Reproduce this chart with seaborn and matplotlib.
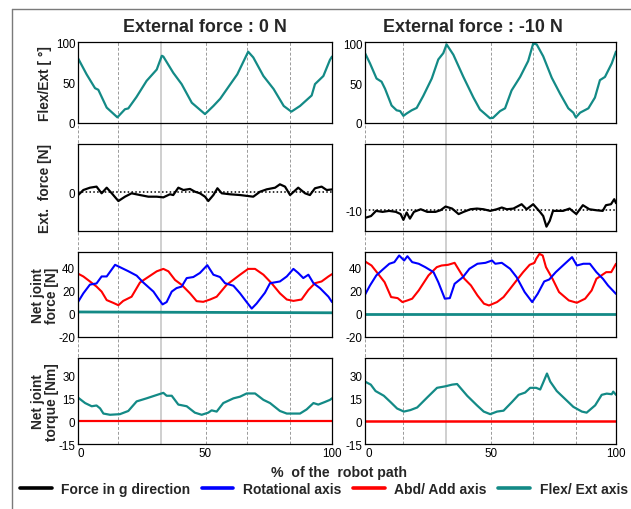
import seaborn as sns
import matplotlib.pyplot as plt
from matplotlib.lines import Line2D
from matplotlib import transforms

sns.set_theme(style='white')
plt.rcParams['font.family'] = ['Liberation Sans', 'DejaVu Sans']
plt.rcParams['axes.unicode_minus'] = False

# ---- values (x = % of the robot path) ----
# Flex/Ext angle, external force 0 N
flex_0_x = [0, 3.4, 6.7, 8, 11.3, 15.5, 18.5, 19.8, 23, 27, 31, 33, 33.6, 37.5, 40.8, 44.8, 50,
            53.3, 56, 60, 62.7, 67, 69, 73, 77, 81, 84, 87.4, 92, 93.3, 96.6, 99.2, 100]
flex_0_y = [80, 60, 43, 41, 19, 7, 17, 18, 32, 52, 66, 83, 82, 62, 48, 25, 11,
            21, 30, 48, 60, 88, 81, 58, 42, 21, 14, 21, 34, 48, 58, 78, 82]
# Flex/Ext angle, external force -10 N
flex_10_x = [0, 2, 4.6, 6.6, 8, 10.6, 12.6, 14, 15.3, 16.6, 18.6, 20.6, 23.2, 26.6, 29.2, 31.2, 32.5,
             35.2, 39.2, 43.2, 45.8, 49.8, 51, 53.8, 55.8, 58.4, 61.8, 65, 67, 68.4, 71, 74.4, 77.7,
             81, 83, 84, 85.7, 89, 91.6, 93.6, 95.6, 98.3, 100]
flex_10_y = [88, 75, 56, 52, 43, 22, 16, 15, 9, 12, 16, 19, 34, 56, 80, 88, 99,
             86, 58, 32, 17, 6, 6.5, 15, 18.5, 41, 58, 78, 100, 99, 84, 57, 37,
             18.5, 13, 7, 13, 18.5, 32, 54, 58, 75, 90]

# External force in g direction
ext_0_x = [0, 2.1, 4.7, 7.3, 9.3, 11.3, 13.3, 15.9, 18.5, 21.1, 24.4, 27.7, 31, 33.6, 36.2, 37.5,
           39.5, 41.5, 44.1, 46, 48, 50, 51.3, 53.3, 54.9, 56.6, 59.8, 63.8, 69, 71.7, 74.3, 77.6,
           79.5, 81.5, 83.5, 86.7, 89.4, 91.3, 93.3, 95.9, 97.9, 100]
ext_0_y = [-0.3, 0.24, 0.48, 0.59, -0.1, 0.48, -0.1, -0.9, -0.45, -0.1, -0.28, -0.45, -0.45, -0.52, -0.2, -0.28,
           0.48, 0.24, 0.35, 0.07, -0.1, -0.45, -0.9, -0.28, 0.42, -0.1, -0.2, -0.28, -0.45, 0.07, 0.31, 0.48,
           0.83, 0.59, -0.28, 0.48, -0.1, -0.28, 0.42, 0.59, 0.24, 0.3]
ext_10_x = [0, 2.4, 4.4, 7, 9.6, 12.3, 14.2, 15.3, 16.6, 17.9, 19.5, 22.2, 24.8, 28.1, 30.1, 32.1, 34.7,
            37.3, 39.3, 42, 44.6, 47.2, 49.9, 52.5, 54.5, 56.5, 59.1, 62.4, 64.4, 67, 69.7, 71, 72.3,
            73.6, 74.9, 78.9, 81.5, 84.2, 86.8, 89.4, 92.1, 94.7, 96, 98, 99.3, 100]
ext_10_y = [-10.8, -10.6, -10.07, -10.17, -10.07, -10.17, -10.4, -11.0, -10.24, -10.87, -10.17, -9.9, -10.17, -10.17, -10.0, -9.62, -9.83,
            -10.4, -10.17, -9.9, -9.83, -9.9, -10.07, -9.9, -9.72, -9.9, -9.83, -9.38, -9.9, -9.38, -10.17, -10.6, -11.7,
            -11.1, -10.07, -10.07, -9.83, -10.4, -9.48, -9.9, -10.0, -10.07, -9.48, -9.38, -8.86, -9.27]

# Net joint force, 0 N
rot_0_x = [0, 2.1, 4.7, 7.3, 9.3, 11.3, 14.6, 16.5, 19.8, 23.1, 25.7, 29.7, 31.6, 33.3, 34.9, 36.9, 38.8,
           40.8, 42.8, 45.4, 48, 50.9, 53.3, 55.9, 57.9, 61.2, 63.8, 66.4, 68.4, 70.3, 73.6, 75.6, 79.5,
           82.2, 84.8, 86.7, 88.7, 90.7, 92.7, 95.3, 98.6, 100]
rot_0_y = [10, 17.5, 25, 26, 32, 32, 42, 40, 36.5, 32.7, 26.8, 19, 13, 8, 10, 19, 22,
           23.3, 30.6, 31.5, 35, 41.7, 33.5, 31.5, 26.2, 24, 17.5, 10, 4.4, 8.7, 18, 26.2, 27.7,
           32, 38.5, 35, 30.6, 33.5, 26.2, 21.9, 14.6, 10]
abd_0_x = [0, 2.1, 4.7, 7.3, 9.3, 11.3, 13.9, 15.9, 17.8, 21.1, 24.4, 27, 31, 33.6, 35.6, 38.2, 40.8,
           44.1, 46.7, 49.3, 52, 54.6, 56.6, 58.5, 61.2, 63.8, 67, 69.7, 73, 76.2, 79.5, 82.2, 84.8,
           88, 90.7, 93.3, 95.9, 98.6, 100]
abd_0_y = [34.4, 32, 27.7, 23.3, 19, 11.7, 9.3, 7.3, 11, 14.6, 26.8, 30.6, 36.4, 38.5, 36.4, 29, 24.8,
           17.5, 10.8, 10.2, 12.2, 14.6, 19.8, 24.8, 29.2, 33.5, 38.5, 38.5, 33.5, 26.2, 17.5, 12.2, 11,
           12.2, 20.4, 26.2, 27.7, 32, 34]
flex_force_0_x = [0, 100]
flex_force_0_y = [1.5, 0.8]

# Net joint force, -10 N
rot_10_x = [0, 2, 4.5, 7.1, 9.7, 11.7, 13.6, 15.6, 16.9, 18.8, 21.4, 24, 27.3, 29.2, 31.8, 33.8, 35.7,
            39, 41.6, 44.8, 48, 50.6, 51.9, 54.5, 57.8, 60.4, 63.6, 66.6, 68.8, 71.4, 73.4, 76, 78.6,
            82.5, 84.4, 87, 89.6, 92.2, 94.8, 96.8, 100]
rot_10_y = [16.3, 24.3, 32.9, 38, 42.9, 44.3, 50, 45.7, 49.4, 44.3, 42.9, 40, 35.7, 27.1, 12.9, 13.4, 25.7,
            31.4, 38.6, 42.9, 43.7, 45.7, 42.9, 43.7, 38.6, 31.4, 18.6, 10, 17.1, 27.7, 29.4, 35.7, 40.9,
            48.6, 41.4, 42.9, 42.9, 35.7, 30, 24.3, 17]
abd_10_x = [0, 2.6, 5.2, 7.8, 10.4, 13, 14.9, 16.9, 18.8, 21.4, 25.3, 28.6, 30.5, 33.1, 35.7, 37, 39.6,
            42.2, 44.8, 47.4, 49.4, 52.6, 55.2, 57.8, 60.4, 63, 65.6, 67.5, 68.2, 69.5, 70.8, 72.1, 74.7,
            77.3, 81.2, 84.4, 87.7, 90.3, 92.2, 94.2, 96.1, 98.1, 100]
abd_10_y = [44.9, 41.4, 34.3, 27.1, 14.3, 13.4, 10, 11.4, 12.9, 20, 32.9, 40, 41.4, 42, 43.7, 39.1, 30,
            24.3, 15.7, 8.6, 7.1, 10, 14.3, 21.4, 28.6, 35.7, 42, 43.7, 47.1, 51.4, 50, 40, 30,
            18.6, 11.4, 9.4, 12.9, 20, 30, 32.9, 35.7, 35.7, 42.9]
flex_force_10_x = [0, 100]
flex_force_10_y = [0, 0]

# Net joint torque
torque_0_x = [0, 2.8, 5.4, 7.3, 8.7, 10, 12.6, 16.5, 19.8, 23.1, 27, 31, 33.6, 34.9, 36.9, 39.5, 42.8,
              46, 48.7, 51.3, 52.6, 54.6, 57.2, 61.2, 63.8, 66.4, 69.7, 73, 75.6, 79.5, 82.2, 87.4,
              90, 92.7, 94.6, 97.2, 99.2, 100]
torque_0_y = [15.5, 11.9, 9.8, 10.3, 8.4, 5, 4.2, 4.6, 6.7, 13, 15, 17.2, 18.6, 16.7, 16.7, 10.9, 9.8,
              5.6, 4.2, 5.6, 7.1, 6.3, 11.9, 15, 16.1, 18.2, 18.2, 14, 11.9, 6.7, 5, 5,
              7.7, 11.9, 10.9, 12.6, 14, 15]
torque_10_x = [0, 2.3, 4.2, 7.5, 10.2, 12.8, 15.5, 18.1, 20.8, 24.8, 28.7, 32, 34.7, 36.7, 38, 40.7, 44.6,
               47.3, 49.9, 52.6, 55.2, 58.5, 61.2, 63.8, 65.8, 68.2, 69.8, 70.9, 72.5, 73.8, 76.4, 80.4,
               83, 86.4, 88.3, 91.7, 94.3, 96.3, 98.3, 98.9, 100]
torque_10_y = [26, 24, 19.8, 16.7, 12.5, 8.3, 6.3, 7.3, 9, 15.6, 21.9, 22.9, 24, 24.4, 21.9, 16.7, 10.4,
               6.3, 4.6, 6.3, 6.9, 12.5, 17.3, 18.8, 21.9, 21.9, 20.8, 25, 31.3, 26, 19.8, 13.5,
               9.4, 6.3, 5.6, 10.4, 17.3, 18.1, 17.7, 19.4, 17.3]
abd_torque_x = [0, 100]
abd_torque_y = [0, 0]

# phase marks (vertical guides)
guides_0 = [0, 15.7, 32.7, 50.4, 66.5, 83.5]
guides_10 = [0, 15.1, 32.3, 50.2, 66.9, 84]

titles = ['External force : 0 N', 'External force : -10 N']
ylabels = ['Flex/Ext [ °]', 'Ext.  force [N]', 'Net joint\nforce [N]', 'Net joint\ntorque [Nm]']
legend_labels = ['Force in g direction', 'Rotational axis', 'Abd/ Add axis', 'Flex/ Ext axis']

BLACK, BLUE, RED, TEAL = 'black', '#0000ff', '#ff0000', '#138a86'

fig = plt.figure(figsize=(6.31, 5.10), dpi=100)
W, H = 631.0, 510.0

col_px = [(78, 254), (365, 251)]
row_px = [(43, 124), (145, 232), (253, 338), (359, 445)]

axes = [[None, None] for _ in range(4)]
for r, (t, b) in enumerate(row_px):
    for c, (l, w) in enumerate(col_px):
        axes[r][c] = fig.add_axes([l / W, 1 - b / H, w / W, (b - t) / H])

curves = {
    (0, 0): [(flex_0_x, flex_0_y, TEAL, 1.6)],
    (0, 1): [(flex_10_x, flex_10_y, TEAL, 1.6)],
    (1, 0): [(ext_0_x, ext_0_y, BLACK, 1.6)],
    (1, 1): [(ext_10_x, ext_10_y, BLACK, 1.6)],
    (2, 0): [(flex_force_0_x, flex_force_0_y, TEAL, 2.0), (abd_0_x, abd_0_y, RED, 1.5), (rot_0_x, rot_0_y, BLUE, 1.5)],
    (2, 1): [(flex_force_10_x, flex_force_10_y, TEAL, 2.0), (abd_10_x, abd_10_y, RED, 1.5), (rot_10_x, rot_10_y, BLUE, 1.5)],
    (3, 0): [(abd_torque_x, abd_torque_y, RED, 1.6), (torque_0_x, torque_0_y, TEAL, 1.6)],
    (3, 1): [(abd_torque_x, abd_torque_y, RED, 1.8), (torque_10_x, torque_10_y, TEAL, 1.6)],
}
ylims = [[(0, 100), (0, 102)], [(-4, 5), (-12.15, -3.15)], [(-20, 53), (-20, 53)], [(-15, 41.5), (-15, 41.5)]]
yticks = [[[0, 50, 100]] * 2, [[0], [-10]], [[-20, 0, 20, 40]] * 2, [[-15, 0, 15, 30]] * 2]
ref_levels = [0, -10]

for r in range(4):
    for c in range(2):
        ax = axes[r][c]
        for x, y, col, lw in curves[(r, c)]:
            sns.lineplot(x=x, y=y, ax=ax, color=col, linewidth=lw, legend=False,
                         estimator=None, sort=False)
        if r == 1:
            ax.axhline(ref_levels[c], color='black', lw=1.1, ls=(0, (1, 1.5)), zorder=1)
        ax.set_xlim(0, 100)
        ax.set_ylim(*ylims[r][c])
        ax.set_yticks(yticks[r][c])
        ax.set_ylabel('')
        ax.set_xlabel('')
        ax.tick_params(length=0, pad=2, labelsize=8.4, colors='black')
        for s in ax.spines.values():
            s.set_color('black')
            s.set_linewidth(0.9)
        ax.patch.set_alpha(0)
        if r == 3:
            ax.set_xticks([0, 50, 100])
            ax.set_xticklabels(['0', '50', '100'])
            ax.get_xticklabels()[0].set_ha('left')
        else:
            ax.set_xticks([])
        if c == 0:
            ax.text(-0.13, 0.5, ylabels[r], transform=ax.transAxes, rotation=90,
                    ha='center', va='center', fontsize=9.9, fontweight='bold',
                    multialignment='center', linespacing=1.05)

# vertical guides running through all rows
y_top = 1 - row_px[0][0] / H
y_bot = 1 - row_px[3][1] / H
for c, guides in enumerate([guides_0, guides_10]):
    tr = transforms.blended_transform_factory(axes[3][c].transData, fig.transFigure)
    for i, gx in enumerate(guides):
        if i == 2:
            ln = Line2D([gx, gx], [y_bot, y_top], transform=tr, color='#cfcfcf', lw=1.4, zorder=0)
        else:
            ln = Line2D([gx, gx], [y_bot, y_top], transform=tr, color='#9a9a9a', lw=0.7,
                        ls=(0, (3, 2)), zorder=0)
        fig.add_artist(ln)

# outer frame
fig.add_artist(Line2D([12 / W, 12 / W], [0, 1 - 10 / H], transform=fig.transFigure, color='#7a7a7a', lw=1))
fig.add_artist(Line2D([12 / W, 1], [1 - 10 / H, 1 - 10 / H], transform=fig.transFigure, color='#7a7a7a', lw=1))

fig.text(205 / W, 1 - 27.5 / H, titles[0], ha='center', va='center', fontsize=12.9, fontweight='bold')
fig.text(473 / W, 1 - 27.5 / H, titles[1], ha='center', va='center', fontsize=12.9, fontweight='bold')
fig.text(339 / W, 1 - 473 / H, '%  of the  robot path', ha='center', va='center',
         fontsize=10.2, fontweight='bold')

handles = [Line2D([], [], color=col, lw=2.6) for col in [BLACK, BLUE, RED, TEAL]]
fig.legend(handles, legend_labels, loc='center', bbox_to_anchor=(0.513, 1 - 490 / H), ncol=4,
           frameon=False, handlelength=2.3, handletextpad=0.7, columnspacing=0.8,
           prop={'weight': 'bold', 'size': 10.0}, borderaxespad=0, borderpad=0)

fig.savefig('out.png', dpi=100)
